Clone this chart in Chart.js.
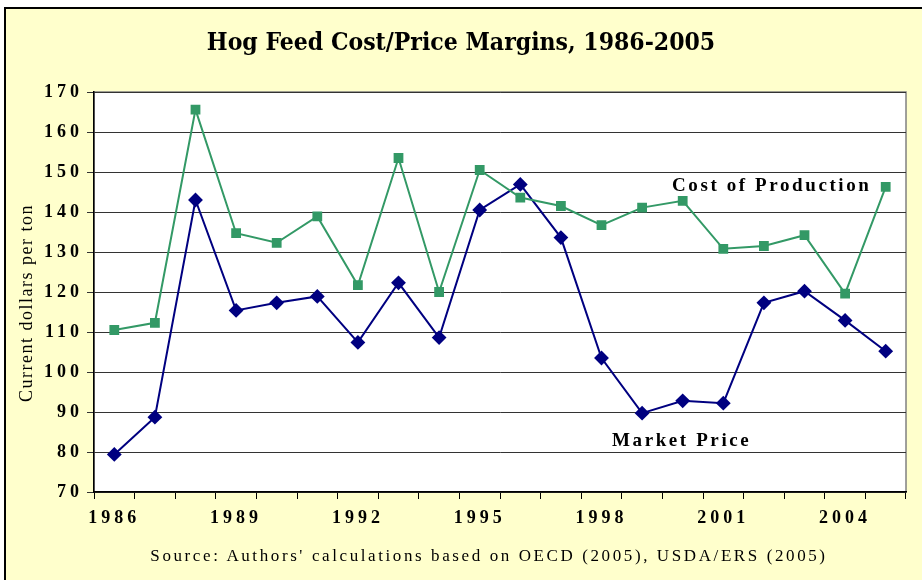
<!DOCTYPE html>
<html>
<head>
<meta charset="utf-8">
<script src="https://cdn.jsdelivr.net/npm/chart.js@4"></script>
<style>
  html, body { margin: 0; padding: 0; background: #fff; }
  #frame { position: absolute; left: 4px; top: 7px; width: 930px; height: 590px;
           background: #FFFFCC; border-left: 2px solid #000; border-top: 2px solid #000; }
  #wrap { position: absolute; left: 0; top: 0; width: 922px; height: 580px; }
  #title { position: absolute; left: 0; top: 27px; width: 922px; text-align: center;
           font: bold 24.5px "DejaVu Serif Condensed", "Liberation Serif", serif; color: #000; }
  #source { position: absolute; left: 28px; top: 546px; width: 922px; text-align: center;
            font: 17px "Liberation Serif", serif; letter-spacing: 2.6px; color: #000; }
</style>
</head>
<body>
<div id="frame"></div>
<div id="wrap"><canvas id="myChart" width="922" height="580"></canvas></div>
<div id="title">Hog Feed Cost/Price Margins, 1986-2005</div>
<div id="source">Source: Authors' calculations based on OECD (2005), USDA/ERS (2005)</div>
<script>
const years = ["1986", "1987", "1988", "1989", "1990", "1991", "1992", "1993", "1994", "1995",
    "1996", "1997", "1998", "1999", "2000", "2001", "2002", "2003", "2004", "2005"];
const costOfProduction = [110.5, 112.3, 165.6, 134.7, 132.3, 138.9, 121.7, 153.5, 120.0, 150.5,
    143.6, 141.5, 136.7, 141.1, 142.8, 130.8, 131.5, 134.2, 119.6, 146.3];
const marketPrice = [79.4, 88.7, 143.0, 115.4, 117.3, 118.9, 107.4, 122.3, 108.6, 140.5,
    146.9, 133.6, 103.5, 89.7, 92.8, 92.2, 117.3, 120.2, 112.9, 105.2];

const ctx = document.getElementById("myChart");

// wide letter spacing for the axis tick labels
const spacing = {
    id: "spacing",
    beforeDraw(chart) {
        chart.ctx.letterSpacing = "4px";
    },
};

const plotBg = {
    id: "plotBg",
    beforeDraw(chart) {
        const a = chart.chartArea;
        const c = chart.ctx;
        c.save();
        c.fillStyle = "#fff";
        c.fillRect(a.left, a.top, a.right - a.left, a.bottom - a.top);
        c.strokeStyle = "#808080";
        c.lineWidth = 1.5;
        c.strokeRect(a.left, a.top, a.right - a.left, a.bottom - a.top);
        c.restore();
    },
};

const texts = {
    id: "texts",
    afterDraw(chart) {
        const c = chart.ctx;
        c.save();
        c.fillStyle = "#000";
        c.textBaseline = "middle";
        c.textAlign = "left";
        c.letterSpacing = "2.6px";
        c.font = "bold 19px 'Liberation Serif', serif";
        c.fillText("Cost of Production", 672, 186);
        c.fillText("Market Price", 612, 441);
        // y axis title
        c.letterSpacing = "1.5px";
        c.font = "18px 'Liberation Serif', serif";
        c.textAlign = "center";
        c.translate(27, 303);
        c.rotate(-Math.PI / 2);
        c.fillText("Current dollars per ton", 0, 0);
        c.restore();
    },
};

new Chart(ctx, {
    type: "line",
    data: {
        labels: years,
        datasets: [
            {
                label: "Cost of Production",
                data: costOfProduction,
                borderColor: "#339966",
                backgroundColor: "#339966",
                borderWidth: 2,
                pointStyle: "rect",
                pointRadius: 5.5,
                pointHoverRadius: 5.5,
            },
            {
                label: "Market Price",
                data: marketPrice,
                borderColor: "#000080",
                backgroundColor: "#000080",
                borderWidth: 2,
                pointStyle: "rectRot",
                pointRadius: 6,
                pointHoverRadius: 6,
            },
        ],
    },
    options: {
        responsive: false,
        animation: false,
        layout: { padding: { top: 92, right: 16, left: 0, bottom: 0 } },
        plugins: {
            legend: { display: false },
            tooltip: { enabled: false },
        },
        scales: {
            x: {
                offset: true,
                grid: {
                    offset: true,
                    drawOnChartArea: false,
                    drawTicks: true,
                    tickLength: 7,
                    color: "#000",
                },
                border: { color: "#000", width: 1.5 },
                ticks: {
                    autoSkip: false,
                    maxRotation: 0,
                    padding: 9,
                    color: "#000",
                    font: { family: "'Liberation Serif', serif", size: 18, weight: "bold" },
                    callback: function (value, index) {
                        return index % 3 === 0 ? years[index] : "";
                    },
                },
                afterFit(scale) {
                    scale.height = 88;
                },
            },
            y: {
                min: 70,
                max: 170,
                grid: { color: "#333", tickLength: 7 },
                border: { color: "#000", width: 1.5 },
                ticks: {
                    stepSize: 10,
                    padding: 4,
                    color: "#000",
                    font: { family: "'Liberation Serif', serif", size: 18, weight: "bold" },
                },
                afterFit(scale) {
                    scale.width = 94;
                },
            },
        },
    },
    plugins: [spacing, plotBg, texts],
});
</script>
</body>
</html>
